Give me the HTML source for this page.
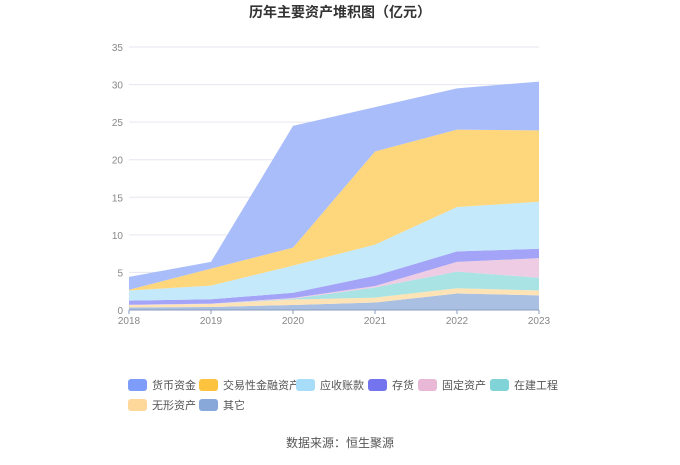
<!DOCTYPE html>
<html><head><meta charset="utf-8"><style>
body{margin:0;background:#fff;font-family:"Liberation Sans","Noto Sans CJK SC",sans-serif;}
svg text{font-family:"Liberation Sans","Noto Sans CJK SC",sans-serif;}
</style></head><body>
<svg id="c" width="680" height="460" xmlns="http://www.w3.org/2000/svg">
<text x="340" y="17" text-anchor="middle" font-size="14" font-weight="bold" fill="#333">历年主要资产堆积图（亿元）</text>
<g id="grid"></g><g id="areas"></g><g id="axes"></g><g id="legend"></g>
<text x="340" y="447" text-anchor="middle" font-size="12" fill="#555">数据来源：恒生聚源</text>
</svg>
<script>
const years=["2018","2019","2020","2021","2022","2023"];
const yTicks=[0,5,10,15,20,25,30,35];
const seriesNames=["其它","无形资产","在建工程","固定资产","存货","应收账款","交易性金融资产","货币资金"];
const other=[0.35,0.4,0.67,1.0,2.2,1.95];
const intangible=[0.3,0.4,0.73,0.65,0.7,0.65];
const construction=[0,0,0.1,1.35,2.2,1.7];
const fixedAssets=[0.05,0.05,0.1,0.2,1.3,2.6];
const inventory=[0.55,0.58,0.7,1.35,1.4,1.25];
const receivables=[1.35,1.82,3.6,4.15,5.9,6.25];
const tradingAssets=[0.1,2.25,2.4,12.4,10.3,9.5];
const cash=[1.7,0.9,16.2,5.9,5.5,6.5];
const values=[other,intangible,construction,fixedAssets,inventory,receivables,tradingAssets,cash];
const fills=["#a9c0e3","#fde3b5","#a9e3e3","#eecde4","#a3a4f7","#c3e9fb","#fed67c","#a9bdfb"];
const legendColors=["#87a8d8","#fed79a","#80d3d6","#e8b8d6","#7474ee","#a8ddfa","#fdc23e","#7e9cf9"];
const slug=["other","intangible-assets","construction","fixed-assets","inventory","receivables","trading-assets","cash"];
const NS="http://www.w3.org/2000/svg";
const x0=129,x1=539,y0=310,yTop=47,yMax=35;
const X=i=>x0+(x1-x0)*i/(years.length-1);
const Y=v=>y0-(y0-yTop)*v/yMax;
function mk(t,a,p){const e=document.createElementNS(NS,t);for(const k in a)e.setAttribute(k,a[k]);p.appendChild(e);return e;}
const grid=document.getElementById('grid'),axes=document.getElementById('axes'),areas=document.getElementById('areas'),legend=document.getElementById('legend');
yTicks.forEach(t=>{
 const l=mk('line',{x1:x0,x2:x1,y1:Y(t),y2:Y(t),stroke:'#e6e6f0','stroke-width':1},grid);
 
 
 const tx=mk('text',{x:x0-6,y:Y(t)+4,'text-anchor':'end','font-size':10,fill:'#888'},axes);
 tx.textContent=t;
 
 
});
let base=years.map(()=>0);
values.forEach((s,k)=>{
 const top=base.map((b,i)=>b+s[i]);
 let d='M'+top.map((v,i)=>X(i)+','+Y(v)).join('L');
 for(let i=years.length-1;i>=0;i--)d+='L'+X(i)+','+Y(base[i]);
 const p=mk('path',{d:d+'Z',fill:fills[k]},areas);
 
 
 base=top;
});
const ax=mk('line',{x1:x0,x2:x1,y1:y0,y2:y0,stroke:'#8a9bbd'},axes);


years.forEach((y,i)=>{
 const tk=mk('line',{x1:X(i),x2:X(i),y1:y0,y2:y0+4,stroke:'#8a9bbd'},axes);
 
 
 const t=mk('text',{x:X(i),y:y0+14,'text-anchor':'middle','font-size':10,fill:'#888'},axes);
 t.textContent=y;
 
 
});
const order=[7,6,5,4,3,2,1,0];
const lx=[128,199,296,368,418,490,128,199],ly=[385,385,385,385,385,385,405,405];
order.forEach((k,j)=>{
 const g=mk('g',{},legend);
 
 
 mk('rect',{x:lx[j],y:ly[j]-6,width:19,height:12,rx:3,fill:legendColors[k]},g);
 const t=mk('text',{x:lx[j]+24,y:ly[j]+4,'font-size':11,fill:'#555'},g);
 t.textContent=seriesNames[k];
});
</script>
</body></html>
